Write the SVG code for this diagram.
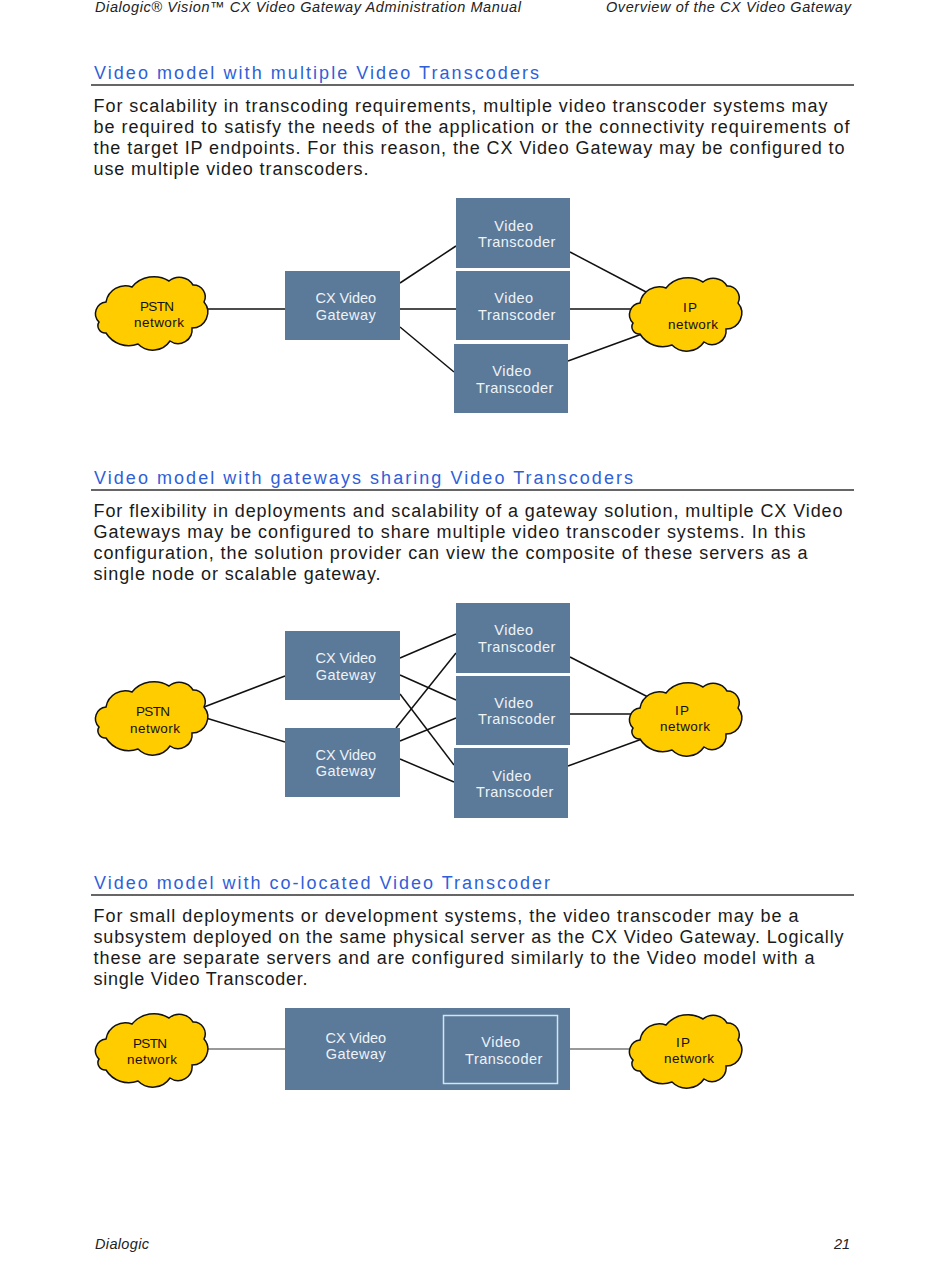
<svg xmlns="http://www.w3.org/2000/svg" width="950" height="1267" viewBox="0 0 950 1267">
<style>
text{font-family:"Liberation Sans",Arial,sans-serif}
.hd{font-size:14.5px;font-style:italic;fill:#222}
.h2{font-size:18px;fill:#2f5fd8}
.b{font-size:18px;fill:#1a1a1a}
.n{font-size:14.5px;fill:#eef3f8;text-anchor:middle;letter-spacing:.5px}
.c{font-size:13.5px;fill:#111;text-anchor:middle}
.box{fill:#5b7999}
.rule{stroke:#333;stroke-width:1.3}
.cn line{stroke:#111;stroke-width:1.5}
.cg line{stroke:#777;stroke-width:1.5}
.cl{fill:#ffcc00;stroke:#111;stroke-width:1.5}
</style>
<defs>
<path id="cloud" class="cl" d="M10 25A19.600 19.600 0 0 1 36 10A28.600 28.600 0 0 1 73 4A16 16 0 0 1 97 8A11.800 11.800 0 0 1 108 25A15.800 15.800 0 0 1 96 51A14 14 0 0 1 74 64A20.800 20.800 0 0 1 42 67A26.800 26.800 0 0 1 10 56A7.300 7.300 0 0 1 3 45A11.700 11.700 0 0 1 10 25Z"/>
</defs>
<g id="page-text">
<text class="hd" x="95" y="12" textLength="426">Dialogic® Vision™ CX Video Gateway Administration Manual</text>
<text class="hd" x="606" y="12" textLength="245">Overview of the CX Video Gateway</text>
<text class="h2" x="94" y="79" textLength="445">Video model with multiple Video Transcoders</text>
<line class="rule" x1="91" y1="85" x2="854" y2="85"/>
<text class="b" x="93.500" y="111.500" textLength="734">For scalability in transcoding requirements, multiple video transcoder systems may</text>
<text class="b" x="93.500" y="132.500" textLength="756">be required to satisfy the needs of the application or the connectivity requirements of</text>
<text class="b" x="93.500" y="153.500" textLength="751">the target IP endpoints. For this reason, the CX Video Gateway may be configured to</text>
<text class="b" x="93.500" y="174.500" textLength="275">use multiple video transcoders.</text>
<text class="h2" x="94" y="484" textLength="539">Video model with gateways sharing Video Transcoders</text>
<line class="rule" x1="91" y1="490" x2="854" y2="490"/>
<text class="b" x="93.500" y="516.500" textLength="749">For flexibility in deployments and scalability of a gateway solution, multiple CX Video</text>
<text class="b" x="93.500" y="537.500" textLength="712">Gateways may be configured to share multiple video transcoder systems. In this</text>
<text class="b" x="93.500" y="558.500" textLength="714">configuration, the solution provider can view the composite of these servers as a</text>
<text class="b" x="93.500" y="579.500" textLength="287">single node or scalable gateway.</text>
<text class="h2" x="94" y="889" textLength="456">Video model with co-located Video Transcoder</text>
<line class="rule" x1="91" y1="895" x2="854" y2="895"/>
<text class="b" x="93.500" y="921.500" textLength="705">For small deployments or development systems, the video transcoder may be a</text>
<text class="b" x="93.500" y="942.500" textLength="750">subsystem deployed on the same physical server as the CX Video Gateway. Logically</text>
<text class="b" x="93.500" y="963.500" textLength="721">these are separate servers and are configured similarly to the Video model with a</text>
<text class="b" x="93.500" y="984.500" textLength="214">single Video Transcoder.</text>
<text class="hd" x="95" y="1249" textLength="54">Dialogic</text>
<text class="hd" x="834" y="1249" textLength="16">21</text>
</g>
<g id="connectors">
<g class="cn">
<line x1="204" y1="309" x2="285" y2="309"/>
<line x1="400" y1="283" x2="456" y2="246"/>
<line x1="400" y1="309" x2="456" y2="309"/>
<line x1="400" y1="327" x2="454" y2="372"/>
<line x1="570" y1="252" x2="648" y2="293"/>
<line x1="570" y1="309" x2="640" y2="309"/>
<line x1="568" y1="361" x2="642" y2="334"/>
<line x1="204" y1="707" x2="285" y2="676"/>
<line x1="206" y1="718" x2="285" y2="742"/>
<line x1="400" y1="658" x2="456" y2="634"/>
<line x1="400" y1="675" x2="456" y2="700"/>
<line x1="400" y1="694" x2="454" y2="765"/>
<line x1="396" y1="728" x2="456" y2="653"/>
<line x1="400" y1="741" x2="456" y2="718"/>
<line x1="400" y1="759" x2="454" y2="782"/>
<line x1="570" y1="657" x2="648" y2="697"/>
<line x1="570" y1="714" x2="640" y2="714"/>
<line x1="568" y1="766" x2="642" y2="739"/>
</g>
<g class="cg">
<line x1="204" y1="1049" x2="285" y2="1049"/>
<line x1="570" y1="1049" x2="640" y2="1049"/>
</g>
</g>
<g id="s1-pstn"><use href="#cloud" x="96" y="277"/><text class="c" x="157" y="311" textLength="34">PSTN</text><text class="c" x="159" y="327" textLength="50">network</text></g>
<g id="s1-gateway"><rect class="box" x="285" y="271" width="115" height="69"/><text class="n" x="346" y="303" textLength="61">CX Video</text><text class="n" x="346" y="320">Gateway</text></g>
<g id="s1-t1"><rect class="box" x="456" y="198" width="114" height="70"/><text class="n" x="514" y="231">Video</text><text class="n" x="517" y="247">Transcoder</text></g>
<g id="s1-t2"><rect class="box" x="456" y="271" width="114" height="69"/><text class="n" x="514" y="303">Video</text><text class="n" x="517" y="320">Transcoder</text></g>
<g id="s1-t3"><rect class="box" x="454" y="344" width="114" height="69"/><text class="n" x="512" y="376">Video</text><text class="n" x="515" y="393">Transcoder</text></g>
<g id="s1-ip"><use href="#cloud" x="630" y="278"/><text class="c" x="690" y="312" textLength="14">IP</text><text class="c" x="693" y="329" textLength="50">network</text></g>
<g id="s2-pstn"><use href="#cloud" x="96" y="682"/><text class="c" x="153" y="716" textLength="34">PSTN</text><text class="c" x="155" y="733" textLength="50">network</text></g>
<g id="s2-g1"><rect class="box" x="285" y="631" width="115" height="69"/><text class="n" x="346" y="663" textLength="61">CX Video</text><text class="n" x="346" y="680">Gateway</text></g>
<g id="s2-g2"><rect class="box" x="285" y="728" width="115" height="69"/><text class="n" x="346" y="760" textLength="61">CX Video</text><text class="n" x="346" y="776">Gateway</text></g>
<g id="s2-t1"><rect class="box" x="456" y="603" width="114" height="70"/><text class="n" x="514" y="635">Video</text><text class="n" x="517" y="652">Transcoder</text></g>
<g id="s2-t2"><rect class="box" x="456" y="676" width="114" height="69"/><text class="n" x="514" y="708">Video</text><text class="n" x="517" y="724">Transcoder</text></g>
<g id="s2-t3"><rect class="box" x="454" y="748" width="114" height="70"/><text class="n" x="512" y="781">Video</text><text class="n" x="515" y="797">Transcoder</text></g>
<g id="s2-ip"><use href="#cloud" x="630" y="683"/><text class="c" x="682" y="715" textLength="14">IP</text><text class="c" x="685" y="731" textLength="50">network</text></g>
<g id="s3-pstn"><use href="#cloud" x="96" y="1014"/><text class="c" x="150" y="1048" textLength="34">PSTN</text><text class="c" x="152" y="1064" textLength="50">network</text></g>
<g id="s3-gateway"><rect class="box" x="285" y="1008" width="285" height="82"/><text class="n" x="356" y="1043" textLength="61">CX Video</text><text class="n" x="356" y="1059">Gateway</text></g>
<g id="s3-t"><rect x="443.500" y="1015.500" width="114" height="68" fill="none" stroke="#cfe6ee" stroke-width="1.500"/><text class="n" x="501" y="1047">Video</text><text class="n" x="504" y="1064">Transcoder</text></g>
<g id="s3-ip"><use href="#cloud" x="630" y="1015"/><text class="c" x="683" y="1047" textLength="14">IP</text><text class="c" x="689" y="1063" textLength="50">network</text></g>
</svg>
